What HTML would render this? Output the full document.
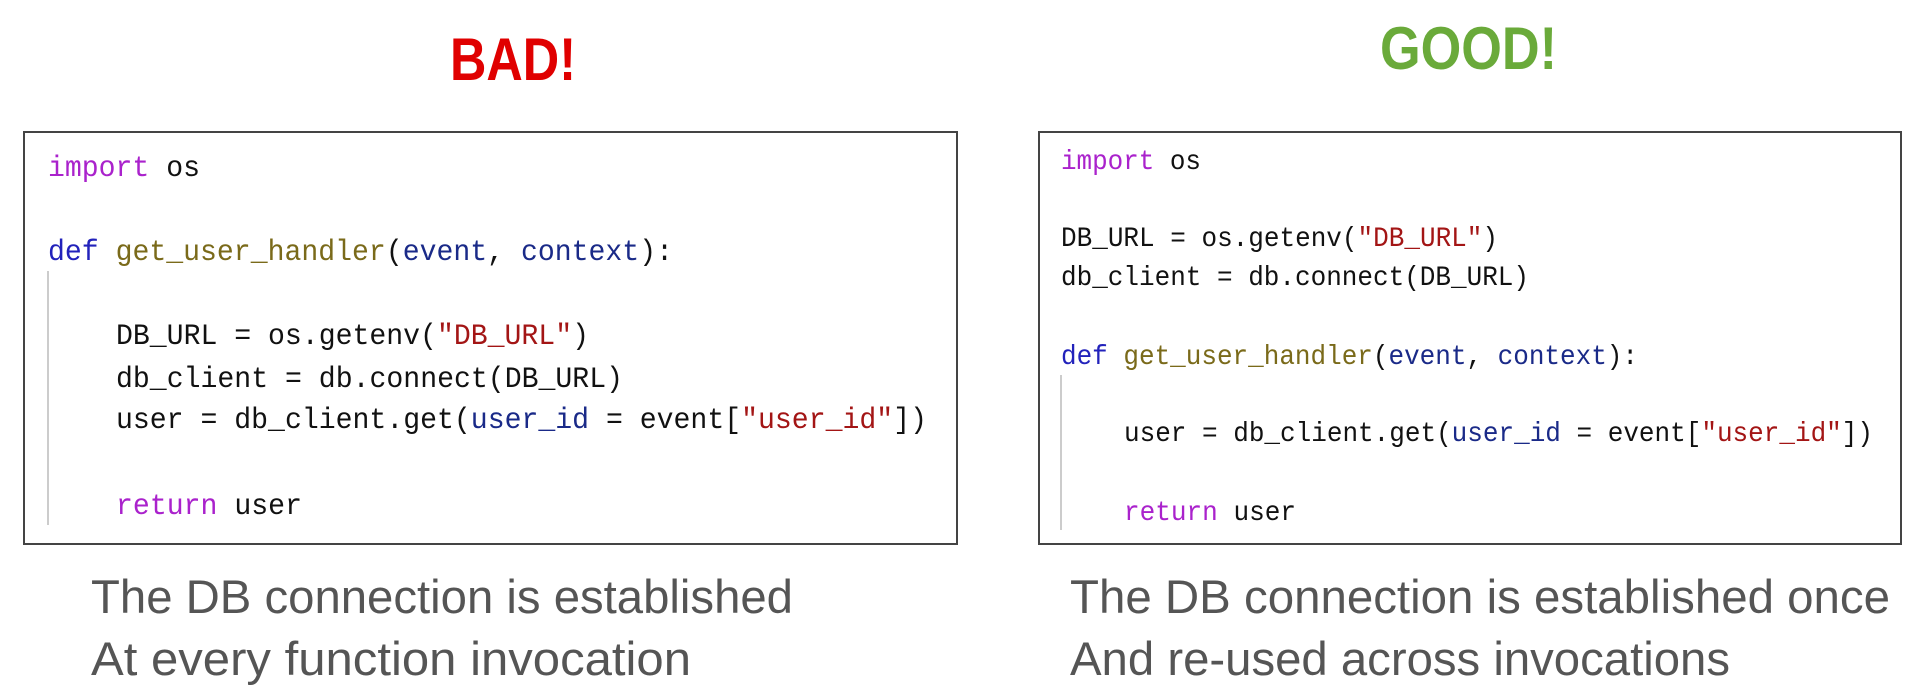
<!DOCTYPE html>
<html><head><meta charset="utf-8"><style>
html,body{margin:0;padding:0;background:#fff;}
svg{display:block}
.m{font-family:"Liberation Mono",monospace;fill:#111;}
.k{fill:#aa22cc}.d{fill:#2222bb}.f{fill:#7a6a1a}.p{fill:#1a2a88}.s{fill:#a31515}
.cap{font-family:"Liberation Sans",sans-serif;fill:#555;font-size:47px}
.t{font-family:"Liberation Sans",sans-serif;font-weight:bold;font-size:60px}
</style></head><body>
<svg width="1920" height="692" viewBox="0 0 1920 692" xmlns="http://www.w3.org/2000/svg">
<rect width="1920" height="692" fill="#fff"/>
<text class="t" x="450" y="80" fill="#e00000" textLength="126" lengthAdjust="spacingAndGlyphs">BAD!</text>
<text class="t" x="1380" y="69" fill="#6aaa3a" textLength="177" lengthAdjust="spacingAndGlyphs">GOOD!</text>

<rect x="24" y="132" width="933" height="412" fill="none" stroke="#444" stroke-width="2"/>
<line x1="48" y1="271" x2="48" y2="525" stroke="#ccc" stroke-width="2"/>
<g class="m" font-size="30">
<text x="48" y="176" textLength="152" lengthAdjust="spacingAndGlyphs"><tspan class="k">import</tspan> os</text>
<text x="48" y="260" textLength="625" lengthAdjust="spacingAndGlyphs"><tspan class="d">def</tspan> <tspan class="f">get_user_handler</tspan>(<tspan class="p">event</tspan>, <tspan class="p">context</tspan>):</text>
<text x="116" y="344" textLength="473" lengthAdjust="spacingAndGlyphs">DB_URL = os.getenv(<tspan class="s">"DB_URL"</tspan>)</text>
<text x="116" y="387" textLength="507" lengthAdjust="spacingAndGlyphs">db_client = db.connect(DB_URL)</text>
<text x="116" y="428" textLength="811" lengthAdjust="spacingAndGlyphs">user = db_client.get(<tspan class="p">user_id</tspan> = event[<tspan class="s">"user_id"</tspan>])</text>
<text x="116" y="514" textLength="186" lengthAdjust="spacingAndGlyphs"><tspan class="k">return</tspan> user</text>
</g>

<rect x="1039" y="132" width="862" height="412" fill="none" stroke="#444" stroke-width="2"/>
<line x1="1061" y1="375" x2="1061" y2="530" stroke="#ccc" stroke-width="2"/>
<g class="m" font-size="28">
<text x="1061" y="169" textLength="140" lengthAdjust="spacingAndGlyphs"><tspan class="k">import</tspan> os</text>
<text x="1061" y="246" textLength="437" lengthAdjust="spacingAndGlyphs">DB_URL = os.getenv(<tspan class="s">"DB_URL"</tspan>)</text>
<text x="1061" y="285" textLength="468" lengthAdjust="spacingAndGlyphs">db_client = db.connect(DB_URL)</text>
<text x="1061" y="364" textLength="577" lengthAdjust="spacingAndGlyphs"><tspan class="d">def</tspan> <tspan class="f">get_user_handler</tspan>(<tspan class="p">event</tspan>, <tspan class="p">context</tspan>):</text>
<text x="1124" y="441" textLength="749" lengthAdjust="spacingAndGlyphs">user = db_client.get(<tspan class="p">user_id</tspan> = event[<tspan class="s">"user_id"</tspan>])</text>
<text x="1124" y="520" textLength="172" lengthAdjust="spacingAndGlyphs"><tspan class="k">return</tspan> user</text>
</g>

<text class="cap" x="91" y="613" textLength="702" lengthAdjust="spacingAndGlyphs">The DB connection is established</text>
<text class="cap" x="91" y="675" textLength="600" lengthAdjust="spacingAndGlyphs">At every function invocation</text>
<text class="cap" x="1070" y="613" textLength="820" lengthAdjust="spacingAndGlyphs">The DB connection is established once</text>
<text class="cap" x="1070" y="675" textLength="660" lengthAdjust="spacingAndGlyphs">And re-used across invocations</text>
</svg>
</body></html>
